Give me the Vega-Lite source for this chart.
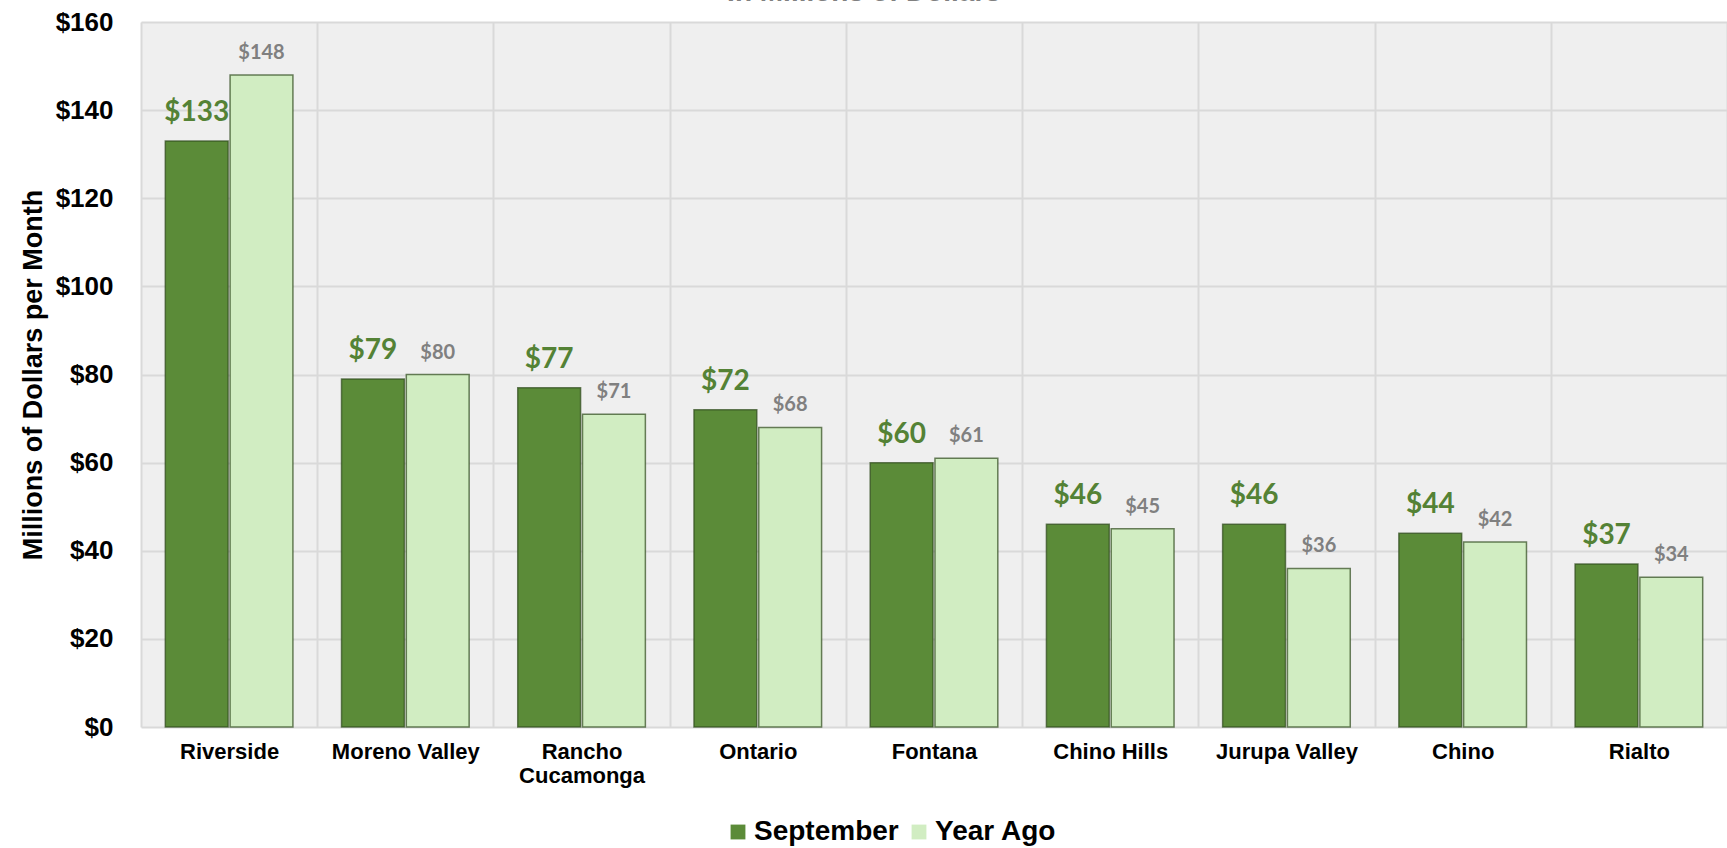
{
  "$schema": "https://vega.github.io/schema/vega-lite/v6.json",
  "width": 1586,
  "height": 705,
  "autosize": {"type": "none"},
  "padding": {"left": 141, "top": 22, "right": 0, "bottom": 121},
  "background": "white",
  "title": {
    "text": "In Millions of Dollars",
    "font": "Liberation Sans",
    "fontSize": 28,
    "fontWeight": "bold",
    "color": "#808080",
    "offset": 2,
    "dx": -70
  },
  "data": {
    "values": [
      {"city": "Riverside", "series": "September", "value": 133},
      {"city": "Riverside", "series": "Year Ago", "value": 148},
      {"city": "Moreno Valley", "series": "September", "value": 79},
      {"city": "Moreno Valley", "series": "Year Ago", "value": 80},
      {"city": "Rancho Cucamonga", "series": "September", "value": 77},
      {"city": "Rancho Cucamonga", "series": "Year Ago", "value": 71},
      {"city": "Ontario", "series": "September", "value": 72},
      {"city": "Ontario", "series": "Year Ago", "value": 68},
      {"city": "Fontana", "series": "September", "value": 60},
      {"city": "Fontana", "series": "Year Ago", "value": 61},
      {"city": "Chino Hills", "series": "September", "value": 46},
      {"city": "Chino Hills", "series": "Year Ago", "value": 45},
      {"city": "Jurupa Valley", "series": "September", "value": 46},
      {"city": "Jurupa Valley", "series": "Year Ago", "value": 36},
      {"city": "Chino", "series": "September", "value": 44},
      {"city": "Chino", "series": "Year Ago", "value": 42},
      {"city": "Rialto", "series": "September", "value": 37},
      {"city": "Rialto", "series": "Year Ago", "value": 34}
    ]
  },
  "encoding": {
    "x": {
      "field": "city",
      "type": "nominal",
      "sort": null,
      "scale": {"paddingInner": 0, "paddingOuter": 0},
      "axis": {
        "title": null,
        "labelAngle": 0,
        "labelFont": "Liberation Sans",
        "labelFontWeight": "bold",
        "labelFontSize": 22,
        "labelColor": "#000000",
        "labelPadding": 14,
        "labelLimit": 400,
        "labelExpr": "datum.label == 'Rancho Cucamonga' ? ['Rancho', 'Cucamonga'] : datum.label",
        "tickBand": "extent",
        "grid": true,
        "ticks": false,
        "domain": false
      }
    },
    "xOffset": {
      "field": "series",
      "type": "nominal",
      "sort": ["September", "Year Ago"],
      "scale": {"paddingInner": 0.03, "paddingOuter": 0.375}
    },
    "y": {
      "field": "value",
      "type": "quantitative",
      "scale": {"domain": [0, 160]},
      "axis": {
        "values": [0, 20, 40, 60, 80, 100, 120, 140, 160],
        "labelExpr": "'$' + datum.value",
        "labelFont": "Liberation Sans",
        "labelFontWeight": "bold",
        "labelFontSize": 26,
        "labelColor": "#000000",
        "labelPadding": 28,
        "ticks": false,
        "domain": false,
        "title": "Millions of Dollars per Month",
        "titleFont": "Liberation Sans",
        "titleFontWeight": "bold",
        "titleFontSize": 27,
        "titleColor": "#000000",
        "titlePadding": 8
      }
    }
  },
  "layer": [
    {
      "mark": {"type": "bar", "stroke": "#2F4A1D", "strokeWidth": 1.5, "strokeOpacity": 0.7},
      "encoding": {
        "color": {
          "field": "series",
          "type": "nominal",
          "scale": {"domain": ["September", "Year Ago"], "range": ["#5B8B38", "#D1EDC2"]},
          "legend": {
            "title": null,
            "orient": "none",
            "direction": "horizontal",
            "legendX": 583,
            "legendY": 796,
            "labelFont": "Liberation Sans",
            "labelFontWeight": "bold",
            "labelFontSize": 28,
            "labelColor": "#000000",
            "symbolType": "square",
            "symbolSize": 220,
            "symbolStrokeWidth": 0,
            "symbolOpacity": 1,
            "labelOffset": 2,
            "columnPadding": 6
          }
        }
      }
    },
    {
      "transform": [{"filter": "datum.series == 'September'"}],
      "mark": {"type": "text", "baseline": "bottom", "dy": -14, "font": "Lato", "fontWeight": "bold", "fontSize": 28, "color": "#548235"},
      "encoding": {
        "text": {"field": "value", "type": "quantitative", "format": "$.0f"}
      }
    },
    {
      "transform": [{"filter": "datum.series == 'Year Ago'"}],
      "mark": {"type": "text", "baseline": "bottom", "dy": -12, "font": "Lato", "fontWeight": "bold", "fontSize": 20, "color": "#808080"},
      "encoding": {
        "text": {"field": "value", "type": "quantitative", "format": "$.0f"}
      }
    }
  ],
  "config": {
    "view": {"fill": "#EFEFEF", "stroke": null},
    "axis": {"gridColor": "#D9D9D9", "gridWidth": 2, "gridOpacity": 1}
  }
}
